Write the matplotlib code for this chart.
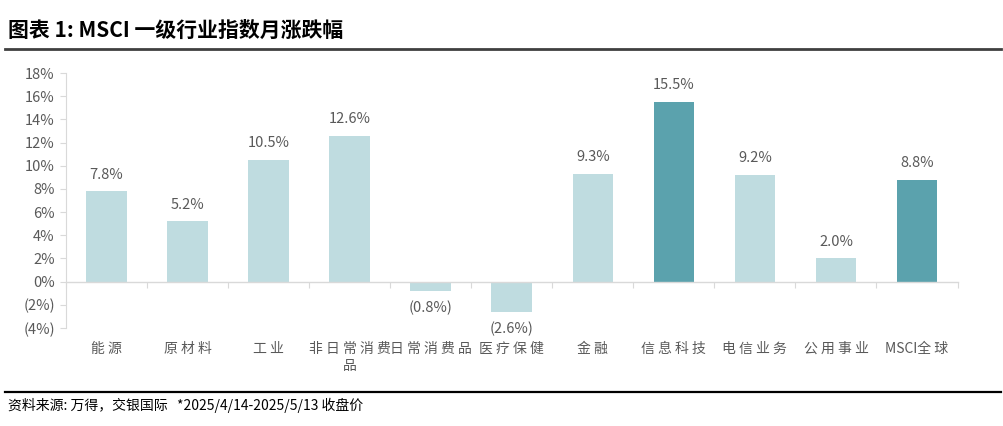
import matplotlib
matplotlib.use("Agg")
import matplotlib.pyplot as plt
from matplotlib.lines import Line2D
from matplotlib.ticker import FuncFormatter, FixedLocator
import matplotlib.transforms as mtransforms

plt.rcParams['font.family'] = ['Noto Sans CJK SC', 'DejaVu Sans']

categories = ["能源", "原材料", "工业", "非日常消费\n品", "日常消费品", "医疗保健",
              "金融", "信息科技", "电信业务", "公用事业", "MSCI全球"]
values = [7.8, 5.2, 10.5, 12.6, -0.8, -2.6, 9.3, 15.5, 9.2, 2.0, 8.8]
highlight = [False, False, False, False, False, False, False, True, False, False, True]
yticks = list(range(-4, 19, 2))

title = "图表 1: MSCI 一级行业指数月涨跌幅"
footer = "资料来源: 万得，交银国际   *2025/4/14-2025/5/13 收盘价"

LIGHT = "#BFDCE0"
DARK = "#5BA2AD"
TXT = "#595959"
GRID = "#D9D9D9"

fig = plt.figure(figsize=(10.04, 4.26), dpi=100)
ax = fig.add_axes([0.0657, 0.230, 0.888, 0.5986])

x = list(range(len(categories)))
colors = [DARK if h else LIGHT for h in highlight]
ax.bar(x, values, width=0.5, color=colors, zorder=2)

ax.set_xlim(-0.5, len(categories) - 0.5)
ax.set_ylim(-4, 18)
ax.yaxis.set_major_locator(FixedLocator(yticks))


def pct(v, pos):
    v = int(round(v))
    return f"({abs(v)}%)" if v < 0 else f"{v}%"


ax.yaxis.set_major_formatter(FuncFormatter(pct))
ax.tick_params(axis='y', length=4, width=0.8, color=GRID, labelcolor=TXT,
               labelsize=10.5, pad=4)

for s in ['top', 'right']:
    ax.spines[s].set_visible(False)
ax.spines['left'].set_color(GRID)
ax.spines['left'].set_linewidth(0.8)
ax.spines['bottom'].set_position(('data', 0))
ax.spines['bottom'].set_color(GRID)
ax.spines['bottom'].set_linewidth(1.0)

ax.xaxis.set_major_locator(FixedLocator([i - 0.5 for i in range(len(categories) + 1)]))
ax.xaxis.set_major_formatter(FuncFormatter(lambda v, p: ""))
ax.tick_params(axis='x', length=4, width=0.8, color=GRID, direction='out')

# category labels below plot area
trans = mtransforms.blended_transform_factory(ax.transData, ax.transAxes)
for xi, lab in zip(x, categories):
    spaced = "\n".join(" ".join(list(line)) if not line.startswith("MSCI") else
                       "MSCI" + " ".join(list(line[4:])) for line in lab.split("\n"))
    ax.annotate(spaced, xy=(xi, 0), xycoords=trans, xytext=(0, -10),
                textcoords='offset points', ha='center', va='top',
                fontsize=10, color=TXT, linespacing=1.3)

# data labels
for xi, v in zip(x, values):
    lab = f"({abs(v):.1f}%)" if v < 0 else f"{v:.1f}%"
    off = 7 if v >= 0 else -7
    ax.annotate(lab, xy=(xi, v), xytext=(0, off), textcoords='offset points',
                ha='center', va='bottom' if v >= 0 else 'top',
                fontsize=10.5, color=TXT)

fig.text(0.008, 0.928, title, fontsize=15, fontweight='bold', color='#000000',
         ha='left', va='center')
fig.add_artist(Line2D([0.005, 0.997], [0.886, 0.886], transform=fig.transFigure,
                      color='#404040', linewidth=2))
fig.add_artist(Line2D([0.005, 0.997], [0.080, 0.080], transform=fig.transFigure,
                      color='#000000', linewidth=1.6))
fig.text(0.008, 0.049, footer, fontsize=10, style='italic', color='#000000',
         ha='left', va='center')

fig.savefig("out.png", dpi=100)
